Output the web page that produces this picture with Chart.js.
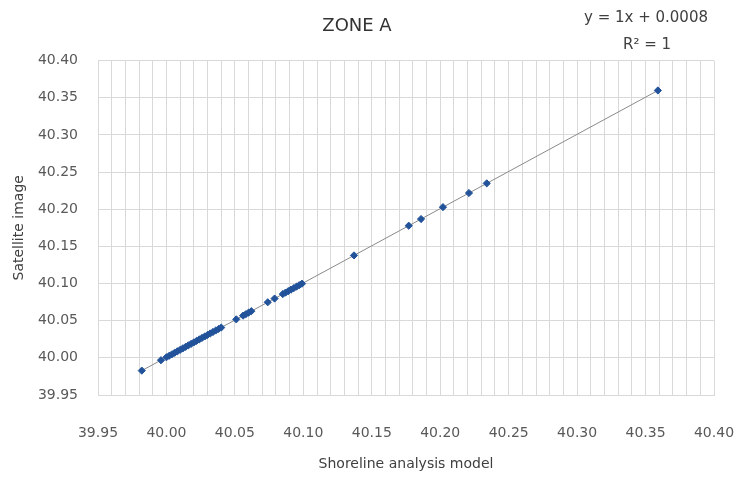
<!DOCTYPE html>
<html>
<head>
<meta charset="utf-8">
<script src="https://cdn.jsdelivr.net/npm/chart.js@4.4.1/dist/chart.umd.min.js"></script>
<style>
  html, body { margin: 0; padding: 0; background: #ffffff; }
  #c { display: block; }
</style>
</head>
<body>
<canvas id="c" width="736" height="479"></canvas>
<script>
const chartTitle = "ZONE A";
const equationLines = ["y = 1x + 0.0008", "R² = 1"];
const xAxisTitle = "Shoreline analysis model";
const yAxisTitle = "Satellite image";

const modelValues = [39.982, 39.996, 40.000, 40.002, 40.004, 40.006, 40.008, 40.010, 40.012, 40.014,
  40.016, 40.018, 40.020, 40.022, 40.024, 40.026, 40.028, 40.030, 40.032, 40.034,
  40.036, 40.038, 40.040, 40.051, 40.056, 40.058, 40.060, 40.062, 40.074, 40.079,
  40.085, 40.087, 40.089, 40.091, 40.093, 40.095, 40.097, 40.099, 40.137, 40.177,
  40.186, 40.202, 40.221, 40.234, 40.359];
const satelliteValues = [39.9828, 39.9968, 40.0008, 40.0028, 40.0048, 40.0068, 40.0088, 40.0108, 40.0128, 40.0148,
  40.0168, 40.0188, 40.0208, 40.0228, 40.0248, 40.0268, 40.0288, 40.0308, 40.0328, 40.0348,
  40.0368, 40.0388, 40.0408, 40.0518, 40.0568, 40.0588, 40.0608, 40.0628, 40.0748, 40.0798,
  40.0858, 40.0878, 40.0898, 40.0918, 40.0938, 40.0958, 40.0978, 40.0998, 40.1378, 40.1778,
  40.1868, 40.2028, 40.2218, 40.2348, 40.3598];

const trendX = [39.982, 40.359];
const trendY = [39.9828, 40.3598];

const axisMin = 39.95;
const axisMax = 40.40;

const FONT = "'DejaVu Sans', sans-serif";
const TEXT = "#595959";
const GRID = "#d9d9d9";

const equationPlugin = {
  id: 'equation',
  afterDraw(chart) {
    const ctx = chart.ctx;
    const area = chart.chartArea;
    ctx.save();
    ctx.font = "15px " + FONT;
    ctx.fillStyle = "#404040";
    ctx.textAlign = "center";
    ctx.textBaseline = "middle";
    ctx.fillText(equationLines[0], area.right - 68, 18);
    ctx.fillText(equationLines[1], area.right - 67, 45);
    ctx.restore();
  }
};

new Chart(document.getElementById('c'), {
  type: 'scatter',
  data: {
    datasets: [
      {
        label: 'points',
        data: modelValues.map((x, i) => ({ x: x, y: satelliteValues[i] })),
        pointStyle: 'rectRot',
        pointRadius: 3.6,
        backgroundColor: '#22539a',
        borderColor: '#22539a',
        borderWidth: 1,
        order: 0
      },
      {
        label: 'trend',
        type: 'line',
        data: trendX.map((x, i) => ({ x: x, y: trendY[i] })),
        borderColor: '#8a8a8a',
        borderWidth: 1,
        pointRadius: 0,
        fill: false,
        order: 1
      }
    ]
  },
  options: {
    responsive: false,
    animation: false,
    devicePixelRatio: 1,
    layout: { padding: { top: 0, right: 22, bottom: 0, left: 0 } },
    plugins: {
      legend: { display: false },
      tooltip: { enabled: false },
      title: {
        display: true,
        text: chartTitle,
        color: '#333333',
        font: { family: FONT, size: 18, weight: 'normal' },
        padding: { top: 16, bottom: 23 }
      }
    },
    scales: {
      x: {
        type: 'linear',
        min: axisMin,
        max: axisMax,
        afterFit(s) { s.height = 84; s.paddingLeft = 0; s.paddingRight = 0; },
        grid: { color: GRID, drawTicks: false, lineWidth: 1 },
        border: { color: GRID },
        ticks: {
          stepSize: 0.01,
          autoSkip: false,
          maxRotation: 0,
          padding: 30,
          color: TEXT,
          font: { family: FONT, size: 14 },
          callback(v) {
            const k = Math.round(v * 100);
            return (k % 5 === 0) ? (k / 100).toFixed(2) : '';
          }
        },
        title: {
          display: true,
          text: xAxisTitle,
          color: '#404040',
          font: { family: FONT, size: 14 },
          padding: { top: 0, bottom: 6 }
        }
      },
      y: {
        type: 'linear',
        min: axisMin,
        max: axisMax,
        afterFit(s) { s.width = 98; s.paddingTop = 0; s.paddingBottom = 0; },
        grid: { color: GRID, drawTicks: false, lineWidth: 1 },
        border: { color: GRID },
        ticks: {
          stepSize: 0.05,
          padding: 20,
          color: TEXT,
          font: { family: FONT, size: 14 },
          callback(v) { return (Math.round(v * 100) / 100).toFixed(2); }
        },
        title: {
          display: true,
          text: yAxisTitle,
          color: '#404040',
          font: { family: FONT, size: 14 },
          padding: { top: 11, bottom: 0 }
        }
      }
    }
  },
  plugins: [equationPlugin]
});
</script>
</body>
</html>
